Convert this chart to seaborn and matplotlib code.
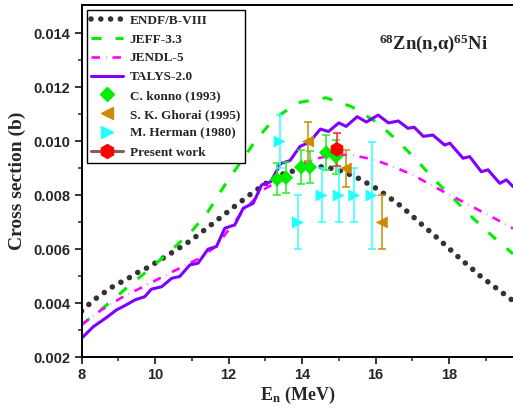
import numpy as np
import pandas as pd
import matplotlib.pyplot as plt
import seaborn as sns
from matplotlib.lines import Line2D

# evaluated data curves
endf_e = [8.0, 8.23, 8.45, 8.7, 8.93, 9.21, 9.45, 9.72, 9.97, 10.22, 10.48, 10.72,
          10.97, 11.2, 11.43, 11.67, 11.9, 12.12, 12.37, 12.61, 12.85, 13.08, 13.39,
          13.92, 14.48, 14.78, 15.07, 15.33, 15.59, 15.84, 16.09, 16.32, 16.57, 16.79,
          17.0, 17.22, 17.45, 17.67, 17.89, 18.11, 18.34, 18.56, 18.77, 18.99, 19.74]
endf_xs = [0.00371, 0.00399, 0.00424, 0.00447, 0.00469, 0.00486, 0.00509, 0.00526,
           0.00546, 0.00567, 0.00589, 0.0061, 0.00632, 0.00656, 0.0068, 0.00706,
           0.0073, 0.00754, 0.0078, 0.00805, 0.00828, 0.0085, 0.00875, 0.00896,
           0.00906, 0.009, 0.0089, 0.00875, 0.00859, 0.00839, 0.0082, 0.00796,
           0.00773, 0.00748, 0.00723, 0.00696, 0.00669, 0.00643, 0.00616, 0.00589,
           0.0056, 0.00536, 0.00509, 0.00486, 0.00409]

jeff_e = [8.0, 8.63, 9.22, 9.77, 10.4, 10.99, 11.44, 11.9, 12.37, 12.76, 13.24, 13.89,
          14.65, 15.35, 16.07, 16.57, 17.07, 17.59, 18.11, 18.65, 19.24, 19.74]
jeff_xs = [0.0032, 0.00387, 0.00456, 0.00517, 0.00591, 0.00665, 0.00739, 0.00838,
           0.00931, 0.01007, 0.01083, 0.01143, 0.01161, 0.01128, 0.01067, 0.01005,
           0.00937, 0.00859, 0.00789, 0.00715, 0.00641, 0.00583]

jendl_e = [8.0, 8.54, 9.13, 9.68, 10.22, 10.76, 11.22, 11.67, 12.31, 12.94, 13.17,
           14.21, 14.9, 15.34, 15.93, 16.48, 17.02, 17.56, 18.11, 18.65, 19.15, 19.74]
jendl_xs = [0.0032, 0.00375, 0.00424, 0.00461, 0.00499, 0.00536, 0.00567, 0.00612,
            0.00727, 0.0082, 0.00838, 0.00931, 0.0095, 0.00949, 0.00933, 0.00906,
            0.00875, 0.00834, 0.00795, 0.00756, 0.00721, 0.00677]

talys_e = [8.0, 8.32, 8.68, 8.95, 9.22, 9.45, 9.72, 9.9, 10.18, 10.45, 10.67, 10.95,
           11.17, 11.44, 11.67, 11.9, 12.17, 12.4, 12.67, 12.9, 13.15, 13.42, 13.67,
           13.94, 14.21, 14.5, 14.72, 15.0, 15.2, 15.5, 15.75, 16.07, 16.35, 16.62,
           16.88, 17.05, 17.3, 17.56, 17.88, 18.02, 18.38, 18.56, 18.88, 19.06, 19.38,
           19.56, 19.74]
talys_xs = [0.0027, 0.00313, 0.00347, 0.00375, 0.00394, 0.00412, 0.00424, 0.00452,
            0.00461, 0.00492, 0.00499, 0.00542, 0.00548, 0.006, 0.0061, 0.00678,
            0.0069, 0.00752, 0.0077, 0.00838, 0.0085, 0.00918, 0.00928, 0.0098,
            0.00998, 0.01045, 0.01036, 0.01068, 0.01055, 0.01091, 0.01071, 0.01097,
            0.01068, 0.01075, 0.01048, 0.01052, 0.01018, 0.01023, 0.00986, 0.00993,
            0.00937, 0.00943, 0.00887, 0.00894, 0.00844, 0.00857, 0.00832]

# experimental data
konno_e = [13.32, 13.56, 13.98, 14.21, 14.66, 14.92]
konno_xs = [0.00859, 0.00865, 0.00904, 0.00904, 0.00958, 0.00943]
konno_err = [0.00059, 0.00057, 0.00062, 0.0006, 0.00065, 0.00063]

ghorai_e = [14.16, 15.19, 16.17]
ghorai_xs = [0.00999, 0.00899, 0.00699]
ghorai_err = [0.00072, 0.0007, 0.001]

herman_e = [13.39, 13.89, 14.53, 15.0, 15.42, 15.89]
herman_xs = [0.00999, 0.00699, 0.00799, 0.00799, 0.00799, 0.00799]
herman_err = [0.001, 0.001, 0.001, 0.001, 0.001, 0.002]

present_e = [14.95]
present_xs = [0.0097]
present_err = [0.0006]

sns.set_style('ticks')
plt.rcParams['mathtext.fontset'] = 'custom'
plt.rcParams['mathtext.bf'] = 'Liberation Serif:bold'
plt.rcParams['mathtext.rm'] = 'Liberation Serif:bold'
plt.rcParams['mathtext.default'] = 'bf'

fig = plt.figure(figsize=(5.13, 4.11), dpi=100)
ax = fig.add_axes([0.159, 0.131, 0.841, 0.857])

serif = dict(family='Liberation Serif', weight='bold')

sns.lineplot(x=endf_e, y=endf_xs, ax=ax, color='#333333', lw=4.0)
ax.lines[-1].set_linestyle((0, (0.01, 1.75)))
ax.lines[-1].set_dash_capstyle('round')
sns.lineplot(x=jeff_e, y=jeff_xs, ax=ax, color='#00ee00', lw=2.2)
ax.lines[-1].set_linestyle((0, (3.3, 4.6)))
sns.lineplot(x=jendl_e, y=jendl_xs, ax=ax, color='#ff00ff', lw=1.9)
ax.lines[-1].set_linestyle((0, (3.2, 2.3, 0.15, 2.3)))
sns.lineplot(x=talys_e, y=talys_xs, ax=ax, color='#7f00ff', lw=2.2)
h_lines = ax.lines[:4]

# error bars
ax.errorbar(konno_e, konno_xs, yerr=konno_err, fmt='none', ecolor='#22ee22',
            elinewidth=1.1, capsize=3, capthick=1.1, zorder=3)
ax.errorbar(ghorai_e, ghorai_xs, yerr=ghorai_err, fmt='none', ecolor='#cc8a00',
            elinewidth=1.1, capsize=3, capthick=1.1, zorder=3)
ax.errorbar(herman_e, herman_xs, yerr=herman_err, fmt='none', ecolor='#33ffff',
            elinewidth=1.1, capsize=3, capthick=1.1, zorder=3)
ax.errorbar(present_e, present_xs, yerr=present_err, fmt='none', ecolor='#ff2020',
            elinewidth=1.1, capsize=3, capthick=1.1, zorder=3)

sns.scatterplot(x=konno_e, y=konno_xs, ax=ax, marker='D', s=55, color='#00ee00',
                edgecolor='none', zorder=4)
sns.scatterplot(x=ghorai_e, y=ghorai_xs, ax=ax, marker='<', s=75, color='#cc8a00',
                edgecolor='none', zorder=4)
sns.scatterplot(x=herman_e, y=herman_xs, ax=ax, marker='>', s=75, color='#22ffff',
                edgecolor='none', zorder=4)
sns.scatterplot(x=present_e, y=present_xs, ax=ax, marker='h', s=110, color='#ff0000',
                edgecolor='none', zorder=5)

ax.set_xlim(8, 19.74)
ax.set_ylim(0.002, 0.01505)
ax.set_xticks([8, 10, 12, 14, 16, 18])
ax.set_xticks(np.arange(9, 20, 2), minor=True)
ax.set_yticks([0.002, 0.004, 0.006, 0.008, 0.010, 0.012, 0.014])
ax.set_yticks(np.arange(0.003, 0.015, 0.002), minor=True)
ax.set_yticklabels(['0.002', '0.004', '0.006', '0.008', '0.010', '0.012', '0.014'])
ax.tick_params(which='major', direction='out', length=5, width=1.3, labelsize=10.5, pad=3)
ax.tick_params(which='minor', direction='out', length=3, width=1.1)
for lab in ax.get_xticklabels() + ax.get_yticklabels():
    lab.set_fontfamily('Liberation Sans')
    lab.set_fontweight('bold')
for s in ['left', 'bottom', 'top']:
    ax.spines[s].set_linewidth(1.4)
    ax.spines[s].set_color('black')
ax.spines['right'].set_visible(False)

ax.set_xlabel(r'E$_\mathbf{n}$ (MeV)', fontsize=13, labelpad=2, **serif)
ax.set_ylabel('Cross section (b)', fontsize=14, labelpad=5, **serif)
ax.text(0.815, 0.89, r'$^{68}$Zn(n,α)$^{65}$Ni', transform=ax.transAxes,
        ha='center', va='center', fontsize=13.5, **serif)

handles = list(h_lines) + [
    Line2D([], [], ls='none', marker='D', ms=7, color='#00ee00'),
    Line2D([], [], ls='none', marker='<', ms=9, color='#cc8a00'),
    Line2D([], [], ls='none', marker='>', ms=9, color='#22ffff'),
    Line2D([], [], ls='-', lw=2.2, color='#8b5a5a', marker='h', ms=10,
           mfc='#ff0000', mec='#ff0000'),
]
labels = ['ENDF/B-VIII', 'JEFF-3.3', 'JENDL-5', 'TALYS-2.0', 'C. konno (1993)',
          'S. K. Ghorai (1995)', 'M. Herman (1980)', 'Present work']
leg = ax.legend(handles, labels, loc='upper left', bbox_to_anchor=(0.012, 0.986),
                borderaxespad=0, fancybox=False, edgecolor='black', framealpha=1,
                prop=dict(family='Liberation Serif', weight='bold', size=9.5),
                handlelength=2.4, labelspacing=0.5, borderpad=0.35, handletextpad=0.5)
leg.get_frame().set_linewidth(1.0)

fig.savefig('out.png', dpi=100)
